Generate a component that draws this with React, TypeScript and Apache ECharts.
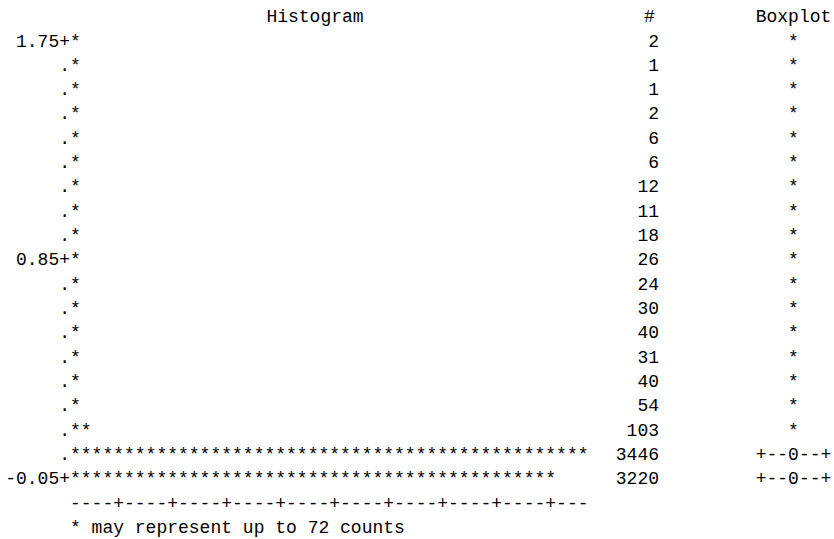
import React, { useEffect, useRef } from "react";
import * as echarts from "echarts";

// Bin midpoints (top to bottom) and their printed labels
const binMids = [1.75, 1.65, 1.55, 1.45, 1.35, 1.25, 1.15, 1.05, 0.95, 0.85, 0.75, 0.65, 0.55, 0.45, 0.35, 0.25, 0.15, 0.05, -0.05];
const binLabels = ["1.75+", ".", ".", ".", ".", ".", ".", ".", ".", "0.85+", ".", ".", ".", ".", ".", ".", ".", ".", "-0.05+"];
// Counts per bin ("#" column)
const counts = [2, 1, 1, 2, 6, 6, 12, 11, 18, 26, 24, 30, 40, 31, 40, 54, 103, 3446, 3220];
// Boxplot column marks
const boxMarks = ["*", "*", "*", "*", "*", "*", "*", "*", "*", "*", "*", "*", "*", "*", "*", "*", "*", "+--0--+", "+--0--+"];
const countsPerStar = 72;
const maxStars = 48;
const axisText = "----+----+----+----+----+----+----+----+----+---";
const footnote = "* may represent up to 72 counts";

const FONT_FAMILY = '"Liberation Mono", monospace';
const FONT_SIZE = 18;
const CH = 10.8; // character advance
const FONT = `${FONT_SIZE}px ${FONT_FAMILY}`;

export default function App() {
  const ref = useRef<HTMLDivElement>(null);
  useEffect(() => {
    if (!ref.current) return;
    const chart = echarts.init(ref.current, undefined, { renderer: "svg" });
    const rowH = 24.32;
    const firstRow = 41.5;
    const gridLeft = 70;
    const gridWidth = maxStars * CH;
    const gridTop = firstRow - rowH / 2;
    const gridHeight = rowH * binMids.length;
    const gridRight = gridLeft + gridWidth;
    const headerY = firstRow - rowH - 0.2;
    const axisY = firstRow + rowH * binMids.length;
    const footY = axisY + rowH;
    const labelStyle = {
      fontFamily: FONT_FAMILY,
      fontSize: FONT_SIZE,
      color: "#000",
    };
    const txt = (text: string, x: number, y: number, align: string) => ({
      type: "text",
      x,
      y,
      silent: true,
      style: {
        text,
        font: FONT,
        fill: "#000",
        textAlign: align,
        textVerticalAlign: "middle",
        align,
        verticalAlign: "middle",
      },
    });
    chart.setOption({
      animation: false,
      backgroundColor: "#fff",
      grid: {
        left: gridLeft,
        top: gridTop,
        width: gridWidth,
        height: gridHeight,
        containLabel: false,
        outerBoundsMode: "none",
      },
      xAxis: {
        type: "value",
        min: 0,
        max: maxStars * countsPerStar,
        show: false,
      },
      yAxis: [
        {
          type: "category",
          data: binMids.map(String),
          inverse: true,
          position: "left",
          axisLine: { show: false },
          axisTick: { show: false },
          splitLine: { show: false },
          axisLabel: {
            ...labelStyle,
            interval: 0,
            margin: 0,
            align: "right",
            verticalAlign: "middle",
            formatter: (_v: string, i: number) => binLabels[i],
          },
        },
        {
          type: "category",
          data: binMids.map(String),
          inverse: true,
          position: "right",
          offset: 0,
          axisLine: { show: false },
          axisTick: { show: false },
          splitLine: { show: false },
          axisLabel: {
            ...labelStyle,
            interval: 0,
            margin: 659 - gridRight,
            align: "right",
            verticalAlign: "middle",
            formatter: (_v: string, i: number) => String(counts[i]),
          },
        },
        {
          type: "category",
          data: binMids.map(String),
          inverse: true,
          position: "right",
          offset: 0,
          axisLine: { show: false },
          axisTick: { show: false },
          splitLine: { show: false },
          axisLabel: {
            ...labelStyle,
            interval: 0,
            margin: 793.5 - gridRight,
            align: "center",
            verticalAlign: "middle",
            formatter: (_v: string, i: number) => boxMarks[i],
          },
        },
      ],
      graphic: [
        txt("Histogram", 315, headerY, "center"),
        txt("#", 649.5, headerY, "center"),
        txt("Boxplot", 793.5, headerY, "center"),
        txt(axisText, gridLeft, axisY, "left"),
        txt(footnote, gridLeft, footY, "left"),
      ],
      series: [
        {
          type: "custom",
          xAxisIndex: 0,
          yAxisIndex: 0,
          encode: { x: 0, y: 1 },
          data: counts.map((c, i) => [c, i]),
          renderItem: (_params: any, api: any) => {
            const cnt = api.value(0);
            const idx = api.value(1);
            const start = api.coord([0, idx]);
            const n = Math.ceil(cnt / countsPerStar);
            return {
              type: "text",
              x: start[0],
              y: start[1],
              style: {
                text: "*".repeat(n),
                font: FONT,
                fill: "#000",
                textAlign: "left",
                textVerticalAlign: "middle",
                align: "left",
                verticalAlign: "middle",
              },
            };
          },
        },
      ],
    });
    return () => chart.dispose();
  }, []);
  return (
    <div
      ref={ref}
      style={{ position: "fixed", left: 0, top: 0, width: 834, height: 539, background: "#fff" }}
    />
  );
}
